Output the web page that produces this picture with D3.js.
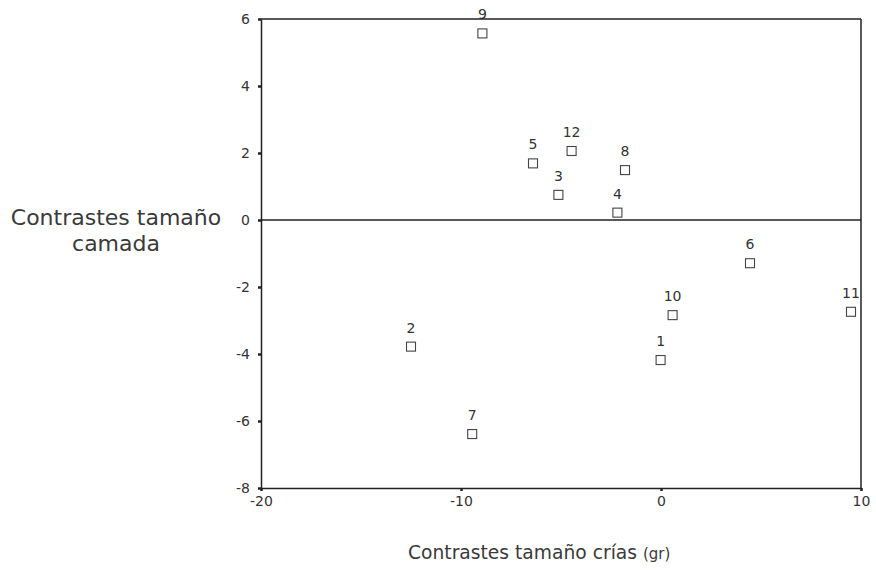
<!DOCTYPE html>
<html>
<head>
<meta charset="utf-8">
<script src="https://cdn.jsdelivr.net/npm/d3@7"></script>
<style>
  body { margin: 0; background: #fff; }
  svg { font-family: "DejaVu Sans", sans-serif; }
</style>
</head>
<body>
<svg width="876" height="576"></svg>
<script>
// point ids and their contrasts
const ids = ['1', '2', '3', '4', '5', '6', '7', '8', '9', '10', '11', '12']
const crias = [-0.02, -12.5, -5.13, -2.18, -6.4, 4.45, -9.44, -1.8, -8.93, 0.58, 9.5, -4.47]
const camada = [-4.18, -3.78, 0.75, 0.22, 1.69, -1.29, -6.39, 1.49, 5.57, -2.84, -2.74, 2.06]

const xTicks = [-20, -10, 0, 10]
const yTicks = [-8, -6, -4, -2, 0, 2, 4, 6]

const svg = d3.select('svg')

// plot area
const plotLeft = 261, plotRight = 861, plotTop = 19, plotBottom = 488

const x = d3.scaleLinear().domain([-20, 10]).range([plotLeft, plotRight])
const y = d3.scaleLinear().domain([-8, 6]).range([plotBottom, plotTop])

const ink = '#222'

// frame (top + right) and zero line
svg.append('line')
    .attr('x1', plotLeft).attr('x2', plotRight)
    .attr('y1', plotTop).attr('y2', plotTop)
    .attr('stroke', ink).attr('stroke-width', 1.5)
svg.append('line')
    .attr('x1', plotRight).attr('x2', plotRight)
    .attr('y1', plotTop).attr('y2', plotBottom)
    .attr('stroke', ink).attr('stroke-width', 1.5)
svg.append('line')
    .attr('x1', plotLeft).attr('x2', plotRight)
    .attr('y1', y(0)).attr('y2', y(0))
    .attr('stroke', ink).attr('stroke-width', 1.5)

// axes - plain hyphen for negatives like the original
const fmt = d => String(d)
const xAxis = svg.append('g')
    .attr('transform', 'translate(0,' + plotBottom + ')')
    .call(d3.axisBottom(x).tickValues(xTicks).tickFormat(fmt).tickSize(3).tickPadding(5).tickSizeOuter(0))
const yAxis = svg.append('g')
    .attr('transform', 'translate(' + plotLeft + ',0)')
    .call(d3.axisLeft(y).tickValues(yTicks).tickFormat(fmt).tickSize(3).tickPadding(8).tickSizeOuter(0))

;[xAxis, yAxis].forEach(ax => {
    ax.select('.domain').attr('stroke', ink).attr('stroke-width', 1.5)
    ax.selectAll('.tick line').attr('stroke', ink).attr('stroke-width', 2.5)
    ax.selectAll('.tick text')
        .attr('fill', '#333')
        .style('font-size', '14px')
        .style('font-family', '"DejaVu Sans", sans-serif')
})

// points
const data = ids.map((id, i) => ({ id: id, cx: crias[i], cy: camada[i] }))
const sq = 9

const pts = svg.selectAll('g.pt')
    .data(data)
    .enter().append('g')
    .attr('class', 'pt')
    .attr('transform', d => 'translate(' + x(d.cx) + ',' + y(d.cy) + ')')

pts.append('rect')
    .attr('x', -sq / 2).attr('y', -sq / 2)
    .attr('width', sq).attr('height', sq)
    .attr('fill', '#fff')
    .attr('stroke', '#444')
    .attr('stroke-width', 1.1)

pts.append('text')
    .attr('y', -14)
    .attr('text-anchor', 'middle')
    .attr('fill', '#333')
    .style('font-size', '14px')
    .text(d => d.id)

// axis titles
const yTitle = svg.append('text')
    .attr('text-anchor', 'middle')
    .attr('fill', '#3a3a3a')
    .style('font-size', '22px')
yTitle.append('tspan').attr('x', 116).attr('y', 225).text('Contrastes tamaño')
yTitle.append('tspan').attr('x', 116).attr('y', 251).text('camada')

const xTitle = svg.append('text')
    .attr('x', 408).attr('y', 559)
    .attr('fill', '#3a3a3a')
xTitle.append('tspan')
    .style('font-size', '18.7px')
    .text('Contrastes tamaño crías ')
xTitle.append('tspan')
    .style('font-size', '15px')
    .text('(gr)')
</script>
</body>
</html>
